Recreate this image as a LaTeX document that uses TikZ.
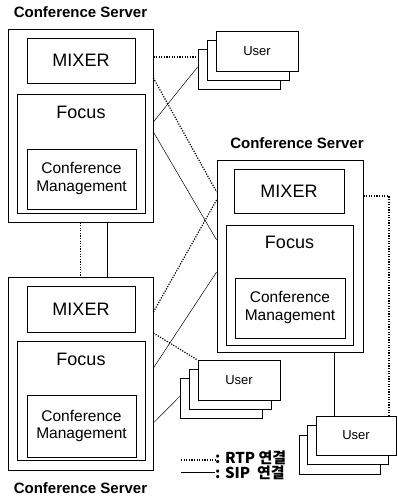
\documentclass[tikz,border=0pt]{standalone}
\usepackage{fontspec}
\setmainfont{Liberation Sans}
\newfontfamily\krfont{Noto Sans CJK KR}

\tikzset{
  box/.style={draw, line width=0.8pt, fill=white, inner sep=0pt},
  rtp/.style={line width=1.2pt, dash pattern=on 1.2pt off 1.4pt},
  sip/.style={line width=0.5pt},
  srvtitle/.style={font=\bfseries\fontsize{15}{17}\selectfont},
  bigtext/.style={font=\fontsize{18}{20}\selectfont},
  cmtext/.style={font=\fontsize{15.5}{18}\selectfont, align=center},
  usertext/.style={font=\fontsize{13}{15}\selectfont},
  legendtext/.style={font=\krfont\bfseries\fontsize{15}{12.5}\selectfont, inner sep=0pt, anchor=west, align=left}
}

\begin{document}
\begin{tikzpicture}[x=1pt,y=1pt]
    \useasboundingbox (0,0) rectangle (397,498);

    % top left server
    \node[srvtitle] (t1) at (80.5,486) {Conference Server};
    \node[box, minimum width=145pt, minimum height=193pt] (s1) at (80.5,372.5) {};
    \node[box, bigtext, minimum width=108pt, minimum height=45pt] (m1) at (81,437.5) {MIXER};
    \node[box, minimum width=128pt, minimum height=119pt] (f1) at (81,344.5) {};
    \node[bigtext] (fl1) at ([yshift=-19pt]f1.north) {Focus};
    \node[box, cmtext, minimum width=109pt, minimum height=60pt] (c1) at (81.5,319) {Conference\\Management};

    % right server
    \node[srvtitle] (t2) at (297,355) {Conference Server};
    \node[box, minimum width=146pt, minimum height=192pt] (s2) at (290,242) {};
    \node[box, bigtext, minimum width=110pt, minimum height=44pt] (m2) at (289,307) {MIXER};
    \node[box, minimum width=127pt, minimum height=120pt] (f2) at (289.5,213) {};
    \node[bigtext] (fl2) at ([yshift=-18pt]f2.north) {Focus};
    \node[box, cmtext, minimum width=110pt, minimum height=60pt] (c2) at (290,190) {Conference\\Management};

    % bottom left server
    \node[srvtitle] (t3) at (80.5,10) {Conference Server};
    \node[box, minimum width=145pt, minimum height=193pt] (s3) at (80.5,124.5) {};
    \node[box, bigtext, minimum width=108pt, minimum height=46pt] (m3) at (81,189) {MIXER};
    \node[box, minimum width=128pt, minimum height=119pt] (f3) at (81,97.5) {};
    \node[bigtext] (fl3) at ([yshift=-19pt]f3.north) {Focus};
    \node[box, cmtext, minimum width=109pt, minimum height=62pt] (c3) at (81.5,72) {Conference\\Management};

    % users
    \node[box, minimum width=82pt, minimum height=40pt] (u1c) at (239,429) {};
    \node[box, minimum width=82pt, minimum height=40pt] (u1b) at (248,438) {};
    \node[box, usertext, minimum width=82pt, minimum height=40pt] (u1a) at (257,447) {User};

    \node[box, minimum width=82pt, minimum height=40pt] (u2c) at (221.5,100) {};
    \node[box, minimum width=82pt, minimum height=40pt] (u2b) at (230,108.5) {};
    \node[box, usertext, minimum width=82pt, minimum height=40pt] (u2a) at (239,117.5) {User};

    \node[box, minimum width=81pt, minimum height=39pt] (u3c) at (339.5,43.5) {};
    \node[box, minimum width=81pt, minimum height=39pt] (u3b) at (348,53) {};
    \node[box, usertext, minimum width=80pt, minimum height=39pt] (u3a) at (356,62.5) {User};

    % links
    \draw[rtp] (s1.south) -- (s3.north);
    \draw[sip] ([xshift=26.5pt]s1.south) -- ([xshift=26.5pt]s3.north);

    \draw[rtp] ([yshift=68.5pt]s1.east) -- ([yshift=12pt]u1c.west);
    \draw[sip] ([yshift=3.5pt]s1.east) -- ([yshift=2pt]u1c.west);
    \draw[rtp] ([yshift=47.5pt]s1.east) -- ([yshift=64pt]s2.west);
    \draw[sip] ([yshift=-6.5pt]s1.east) -- ([yshift=16pt]s2.west);

    \draw[rtp] ([yshift=61.5pt]s3.east) -- ([yshift=56pt]s2.west);
    \draw[sip] ([yshift=5.5pt]s3.east) -- ([yshift=-16pt]s2.west);
    \draw[rtp] ([yshift=40.5pt]s3.east) -- (u2a.north west);
    \draw[sip] ([yshift=-49.5pt]s3.east) -- ([yshift=2pt]u2c.west);

    \draw[rtp] ([yshift=60pt]s2.east) -| ([xshift=33pt]u3a.north);
    \draw[sip] ([xshift=44pt]s2.south) -- ([xshift=-22pt]u3a.north);

    % legend
    \node[legendtext] (lg) at (215,33) {: RTP 연결\\: SIP\ \ 연결};
    \coordinate (k1) at (181,38);
    \coordinate (k2) at (181,26);
    \draw[rtp] (k1) -- (k1 -| lg.west);
    \draw[sip] (k2) -- (k2 -| lg.west);
\end{tikzpicture}
\end{document}
